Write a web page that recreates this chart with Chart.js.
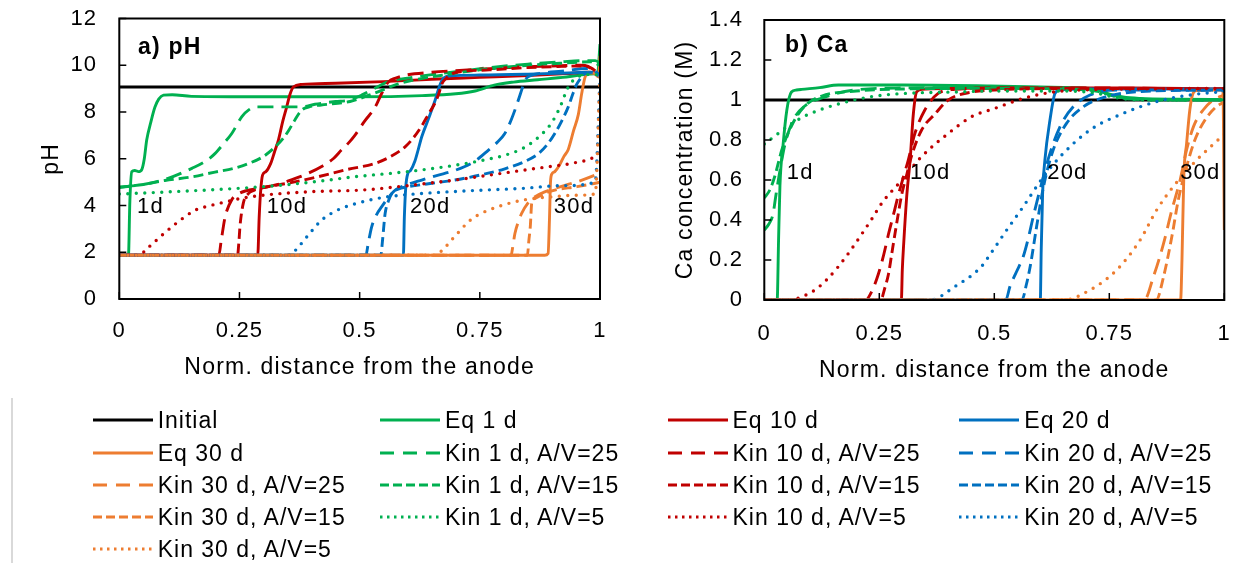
<!DOCTYPE html>
<html>
<head>
<meta charset="utf-8">
<script src="https://cdn.jsdelivr.net/npm/chart.js@4.4.0/dist/chart.umd.min.js"></script>
<style>
  body { margin: 0; background: #fff; }
  #wrap { position: relative; width: 1252px; height: 563px; overflow: hidden; font-family: "Liberation Sans", Arial, sans-serif; }
  canvas.plot { position: absolute; top: 0; }
  #legend { position: absolute; left: 0; top: 0; width: 1252px; height: 563px; }
  .item { position: absolute; height: 32px; line-height: 32px; font-size: 23px; letter-spacing: 1px; color: #000; white-space: nowrap; }
  .item canvas { position: absolute; left: 0; top: 11px; }
  .item span { position: absolute; left: 65px; top: 0; }
  #bar { position: absolute; left: 11px; top: 398px; width: 2px; height: 165px; background: #d9d9d9; }
</style>
</head>
<body>
<div id="wrap">
  <canvas id="phChart" class="plot" width="620" height="390" style="left:0px"></canvas>
  <canvas id="caChart" class="plot" width="622" height="390" style="left:630px"></canvas>
  <div id="bar"></div>
  <div id="legend"></div>
</div>
<script>
// ---- series meta (legend order) ----
const seriesLabels = ['Initial', 'Eq 1 d', 'Eq 10 d', 'Eq 20 d', 'Eq 30 d',
  'Kin 1 d, A/V=25', 'Kin 10 d, A/V=25', 'Kin 20 d, A/V=25', 'Kin 30 d, A/V=25',
  'Kin 1 d, A/V=15', 'Kin 10 d, A/V=15', 'Kin 20 d, A/V=15', 'Kin 30 d, A/V=15',
  'Kin 1 d, A/V=5', 'Kin 10 d, A/V=5', 'Kin 20 d, A/V=5', 'Kin 30 d, A/V=5'];
const seriesColors = ['#000000', '#00B050', '#C00000', '#0070C0', '#ED7D31',
  '#00B050', '#C00000', '#0070C0', '#ED7D31',
  '#00B050', '#C00000', '#0070C0', '#ED7D31',
  '#00B050', '#C00000', '#0070C0', '#ED7D31'];
const seriesStyles = ['solid', 'solid', 'solid', 'solid', 'solid',
  'long', 'long', 'long', 'long',
  'dash', 'dash', 'dash', 'dash',
  'dot', 'dot', 'dot', 'dot'];

// ---- tick labels ----
const xTickValues = [0, 0.25, 0.5, 0.75, 1];
const xTickLabels = ['0', '0.25', '0.5', '0.75', '1'];
const phTickValues = [0, 2, 4, 6, 8, 10, 12];
const phTickLabels = ['0', '2', '4', '6', '8', '10', '12'];
const caTickValues = [0, 0.2, 0.4, 0.6, 0.8, 1, 1.2, 1.4];
const caTickLabels = ['0', '0.2', '0.4', '0.6', '0.8', '1', '1.2', '1.4'];
const dayLabels = ['1d', '10d', '20d', '30d'];

// ---- a) pH : [norm. distance, pH] ----
const phInitial = [[0, 9.07], [1, 9.07]];
const phEq1 = [[0, 1.87], [0.019, 1.87], [0.022, 4.2], [0.026, 5.45], [0.032, 5.5], [0.04, 5.45], [0.047, 5.55], [0.052, 6.0], [0.057, 6.8], [0.066, 7.6], [0.074, 8.2], [0.082, 8.55], [0.092, 8.72], [0.11, 8.74], [0.15, 8.67], [0.3, 8.65], [0.5, 8.65], [0.63, 8.7], [0.7, 8.78], [0.74, 8.9], [0.78, 9.15], [0.82, 9.28], [0.87, 9.38], [0.93, 9.5], [0.98, 9.62], [0.995, 9.65], [1, 10.9]];
const phEq10 = [[0, 1.87], [0.288, 1.87], [0.291, 3.5], [0.294, 4.6], [0.298, 5.3], [0.305, 5.45], [0.315, 5.8], [0.323, 6.3], [0.331, 6.8], [0.34, 7.6], [0.348, 8.2], [0.355, 8.75], [0.362, 9.07], [0.38, 9.18], [0.45, 9.23], [0.55, 9.3], [0.65, 9.4], [0.75, 9.48], [0.85, 9.56], [0.93, 9.64], [0.975, 9.7], [0.99, 9.65], [1, 9.5]];
const phEq20 = [[0, 1.87], [0.591, 1.87], [0.593, 3.5], [0.596, 4.8], [0.6, 5.35], [0.606, 5.5], [0.615, 5.9], [0.622, 6.4], [0.629, 6.93], [0.643, 7.7], [0.657, 8.5], [0.666, 9.1], [0.674, 9.43], [0.69, 9.55], [0.75, 9.58], [0.85, 9.62], [0.95, 9.68], [0.98, 9.7], [1, 9.55]];
const phEq30 = [[0, 1.87], [0.885, 1.87], [0.892, 1.95], [0.895, 3.5], [0.897, 5.0], [0.9, 5.35], [0.906, 5.45], [0.915, 5.7], [0.925, 6.1], [0.934, 6.4], [0.945, 7.2], [0.955, 7.9], [0.962, 8.8], [0.969, 9.5], [0.978, 9.68], [0.988, 9.65], [0.997, 9.5], [1, 10.4]];
const phKin1A25 = [[0, 4.78], [0.05, 4.9], [0.1, 5.15], [0.151, 5.59], [0.18, 5.9], [0.199, 6.22], [0.215, 6.6], [0.234, 7.08], [0.255, 7.8], [0.27, 8.1], [0.285, 8.22], [0.33, 8.22], [0.38, 8.22], [0.407, 8.33], [0.45, 8.45], [0.476, 8.5], [0.504, 8.72], [0.53, 9.0], [0.56, 9.3], [0.6, 9.45], [0.65, 9.6], [0.7, 9.72], [0.77, 9.9], [0.85, 10.05], [0.92, 10.15], [0.97, 10.2], [0.99, 10.2], [1, 10.1]];
const phKin10A25 = [[0, 1.87], [0.207, 1.87], [0.212, 2.5], [0.22, 3.5], [0.234, 4.25], [0.248, 4.5], [0.262, 4.62], [0.296, 4.75], [0.33, 4.9], [0.358, 5.1], [0.39, 5.35], [0.421, 5.67], [0.445, 6.0], [0.462, 6.37], [0.478, 6.7], [0.49, 7.0], [0.51, 7.6], [0.532, 8.2], [0.546, 8.8], [0.56, 9.29], [0.575, 9.45], [0.594, 9.57], [0.65, 9.7], [0.698, 9.77], [0.77, 9.85], [0.837, 9.93], [0.9, 9.97], [0.96, 10.0], [0.975, 9.95], [0.99, 9.65], [1, 9.6]];
const phKin20A25 = [[0, 1.87], [0.513, 1.87], [0.518, 2.4], [0.525, 3.09], [0.535, 3.6], [0.546, 3.95], [0.56, 4.35], [0.574, 4.66], [0.6, 4.9], [0.629, 5.09], [0.66, 5.28], [0.698, 5.5], [0.74, 5.9], [0.768, 6.37], [0.786, 6.7], [0.802, 7.08], [0.816, 7.7], [0.83, 8.5], [0.838, 9.0], [0.844, 9.36], [0.855, 9.55], [0.872, 9.64], [0.92, 9.75], [0.976, 9.86], [1, 9.6]];
const phKin30A25 = [[0, 1.87], [0.815, 1.87], [0.819, 2.3], [0.823, 2.8], [0.83, 3.3], [0.837, 3.66], [0.85, 4.1], [0.865, 4.38], [0.885, 4.58], [0.906, 4.73], [0.95, 5.0], [0.99, 5.3], [1, 5.4]];
const phKin1A15 = [[0, 4.78], [0.05, 4.9], [0.095, 5.07], [0.15, 5.22], [0.199, 5.43], [0.24, 5.6], [0.268, 5.79], [0.3, 6.1], [0.324, 6.5], [0.34, 6.85], [0.352, 7.2], [0.365, 7.65], [0.379, 8.07], [0.395, 8.22], [0.42, 8.3], [0.48, 8.45], [0.53, 8.8], [0.58, 9.2], [0.62, 9.4], [0.68, 9.6], [0.75, 9.8], [0.85, 10.0], [0.93, 10.1], [0.98, 10.15], [1, 10.0]];
const phKin10A15 = [[0, 1.87], [0.246, 1.87], [0.249, 2.5], [0.251, 3.1], [0.258, 4.1], [0.268, 4.5], [0.28, 4.65], [0.296, 4.75], [0.35, 4.95], [0.407, 5.2], [0.476, 5.55], [0.532, 5.8], [0.565, 6.1], [0.594, 6.5], [0.612, 6.9], [0.629, 7.4], [0.643, 7.9], [0.657, 8.4], [0.665, 8.8], [0.671, 9.2], [0.683, 9.5], [0.698, 9.68], [0.77, 9.8], [0.85, 9.9], [0.92, 9.95], [0.96, 9.97], [0.98, 9.9], [1, 9.6]];
const phKin20A15 = [[0, 1.87], [0.544, 1.87], [0.548, 2.6], [0.553, 3.66], [0.56, 4.2], [0.567, 4.52], [0.58, 4.7], [0.601, 4.8], [0.65, 4.95], [0.698, 5.09], [0.75, 5.3], [0.802, 5.57], [0.84, 5.85], [0.872, 6.22], [0.89, 6.6], [0.906, 7.08], [0.92, 7.6], [0.934, 8.22], [0.944, 8.8], [0.952, 9.2], [0.96, 9.45], [0.969, 9.64], [0.985, 9.7], [1, 9.5]];
const phKin30A15 = [[0, 1.87], [0.849, 1.87], [0.852, 2.5], [0.855, 3.1], [0.858, 4.1], [0.865, 4.3], [0.878, 4.45], [0.906, 4.66], [0.95, 4.8], [0.99, 4.95], [1, 5.0]];
const phKin1A5 = [[0, 4.49], [0.1, 4.58], [0.2, 4.68], [0.296, 4.8], [0.4, 5.0], [0.49, 5.23], [0.6, 5.45], [0.698, 5.72], [0.76, 5.95], [0.802, 6.15], [0.84, 6.45], [0.865, 6.8], [0.893, 7.36], [0.907, 7.8], [0.92, 8.36], [0.93, 8.9], [0.938, 9.2], [0.95, 9.45], [0.97, 9.6], [1, 9.6]];
const phKin10A5 = [[0, 1.87], [0.04, 1.87], [0.06, 2.2], [0.09, 2.75], [0.116, 3.2], [0.158, 3.8], [0.19, 4.0], [0.22, 4.15], [0.26, 4.33], [0.303, 4.45], [0.407, 4.6], [0.504, 4.66], [0.6, 4.85], [0.698, 5.09], [0.77, 5.3], [0.837, 5.5], [0.9, 5.68], [0.94, 5.8], [0.99, 6.1], [1, 6.3]];
const phKin20A5 = [[0, 1.87], [0.355, 1.87], [0.365, 2.05], [0.379, 2.38], [0.4, 2.9], [0.421, 3.38], [0.44, 3.65], [0.462, 3.88], [0.49, 4.07], [0.525, 4.25], [0.56, 4.38], [0.62, 4.5], [0.698, 4.6], [0.77, 4.67], [0.837, 4.73], [0.92, 4.85], [0.99, 5.0], [1, 9.4]];
const phKin30A5 = [[0, 1.87], [0.655, 1.87], [0.67, 2.05], [0.691, 2.52], [0.71, 2.95], [0.726, 3.3], [0.745, 3.58], [0.768, 3.8], [0.8, 4.03], [0.837, 4.22], [0.87, 4.32], [0.906, 4.38], [0.95, 4.44], [0.99, 4.5], [1, 9.6]];

// ---- b) Ca : [norm. distance, Ca (M)] ----
const caInitial = [[0, 1], [1, 1]];
const caEq1 = [[0, 0], [0.028, 0], [0.031, 0.3], [0.034, 0.57], [0.041, 0.78], [0.049, 0.95], [0.059, 1.04], [0.07, 1.05], [0.081, 1.053], [0.12, 1.062], [0.161, 1.075], [0.3, 1.075], [0.49, 1.07], [0.6, 1.065], [0.708, 1.058], [0.73, 1.045], [0.744, 1.033], [0.78, 1.015], [0.817, 1.008], [0.9, 1.004], [1, 1.003]];
const caEq10 = [[0, 0], [0.298, 0], [0.3, 0.15], [0.303, 0.28], [0.31, 0.53], [0.317, 0.7], [0.324, 0.93], [0.331, 1.04], [0.342, 1.053], [0.4, 1.058], [0.6, 1.06], [0.8, 1.06], [1, 1.055]];
const caEq20 = [[0, 0], [0.6, 0], [0.602, 0.25], [0.605, 0.53], [0.61, 0.7], [0.621, 0.9], [0.632, 1.033], [0.643, 1.05], [0.7, 1.055], [1, 1.055]];
const caEq30 = [[0, 0], [0.905, 0], [0.908, 0.2], [0.912, 0.62], [0.918, 0.78], [0.925, 0.95], [0.932, 1.033], [0.94, 1.047], [0.96, 1.05], [0.997, 1.05], [1, 0.35]];
const caKin1A25 = [[0, 0.35], [0.01, 0.38], [0.019, 0.43], [0.025, 0.52], [0.032, 0.62], [0.045, 0.78], [0.063, 0.9], [0.088, 0.97], [0.125, 1.01], [0.197, 1.05], [0.3, 1.06], [0.5, 1.062], [0.65, 1.06], [0.72, 1.05], [0.76, 1.02], [0.8, 1.005], [0.9, 1.0], [1, 1.0]];
const caKin10A25 = [[0, 0], [0.22, 0], [0.235, 0.05], [0.248, 0.13], [0.26, 0.23], [0.27, 0.33], [0.28, 0.42], [0.292, 0.53], [0.303, 0.62], [0.313, 0.7], [0.327, 0.83], [0.349, 0.95], [0.378, 1.033], [0.414, 1.053], [0.5, 1.06], [0.7, 1.06], [1, 1.055]];
const caKin20A25 = [[0, 0], [0.525, 0], [0.534, 0.067], [0.548, 0.14], [0.563, 0.217], [0.573, 0.3], [0.583, 0.4], [0.601, 0.567], [0.621, 0.733], [0.643, 0.867], [0.672, 0.967], [0.708, 1.025], [0.766, 1.05], [1, 1.05]];
const caKin30A25 = [[0, 0], [0.826, 0], [0.846, 0.117], [0.868, 0.283], [0.886, 0.45], [0.904, 0.6], [0.918, 0.75], [0.933, 0.867], [0.954, 0.95], [0.976, 1.0], [1, 1.025]];
const caKin1A15 = [[0, 0.51], [0.012, 0.55], [0.023, 0.62], [0.038, 0.75], [0.059, 0.87], [0.088, 0.97], [0.125, 1.02], [0.2, 1.045], [0.3, 1.055], [0.5, 1.058], [0.65, 1.055], [0.72, 1.045], [0.76, 1.02], [0.8, 1.005], [1, 1.0]];
const caKin10A15 = [[0, 0], [0.253, 0], [0.262, 0.06], [0.27, 0.13], [0.277, 0.23], [0.284, 0.33], [0.299, 0.53], [0.31, 0.63], [0.32, 0.72], [0.342, 0.85], [0.371, 0.93], [0.4, 1.0], [0.451, 1.04], [0.5, 1.05], [0.7, 1.058], [1, 1.055]];
const caKin20A15 = [[0, 0], [0.56, 0], [0.57, 0.08], [0.578, 0.167], [0.592, 0.367], [0.607, 0.567], [0.628, 0.75], [0.657, 0.883], [0.694, 0.967], [0.744, 1.017], [0.817, 1.042], [1, 1.05]];
const caKin30A15 = [[0, 0], [0.852, 0], [0.868, 0.117], [0.886, 0.317], [0.9, 0.5], [0.918, 0.667], [0.936, 0.8], [0.958, 0.9], [0.983, 0.967], [1, 0.99]];
const caKin1A5 = [[0, 0.78], [0.023, 0.82], [0.052, 0.87], [0.088, 0.92], [0.12, 0.95], [0.161, 0.98], [0.233, 1.017], [0.306, 1.033], [0.414, 1.04], [0.5, 1.045], [0.65, 1.045], [0.72, 1.035], [0.77, 1.01], [0.82, 1.0], [1, 1.0]];
const caKin10A5 = [[0, 0], [0.055, 0], [0.08, 0.015], [0.11, 0.05], [0.135, 0.1], [0.161, 0.167], [0.185, 0.24], [0.212, 0.33], [0.235, 0.41], [0.255, 0.483], [0.299, 0.6], [0.342, 0.717], [0.4, 0.833], [0.451, 0.917], [0.501, 0.958], [0.563, 1.008], [0.635, 1.042], [0.744, 1.053], [1, 1.058]];
const caKin20A5 = [[0, 0], [0.36, 0], [0.414, 0.067], [0.472, 0.167], [0.49, 0.225], [0.527, 0.35], [0.563, 0.467], [0.607, 0.617], [0.65, 0.733], [0.708, 0.85], [0.78, 0.933], [0.853, 0.992], [0.925, 1.025], [1, 1.042]];
const caKin30A5 = [[0, 0], [0.65, 0], [0.708, 0.05], [0.766, 0.15], [0.817, 0.3], [0.853, 0.45], [0.889, 0.567], [0.94, 0.7], [0.99, 0.808], [1, 0.83]];

const phSeries = [phInitial, phEq1, phEq10, phEq20, phEq30,
  phKin1A25, phKin10A25, phKin20A25, phKin30A25,
  phKin1A15, phKin10A15, phKin20A15, phKin30A15,
  phKin1A5, phKin10A5, phKin20A5, phKin30A5];
const caSeries = [caInitial, caEq1, caEq10, caEq20, caEq30,
  caKin1A25, caKin10A25, caKin20A25, caKin30A25,
  caKin1A15, caKin10A15, caKin20A15, caKin30A15,
  caKin1A5, caKin10A5, caKin20A5, caKin30A5];

// line styles
const plotDash = { solid: [], long: [16, 8], dash: [10, 5], dot: [0, 8.5] };
const plotWidth = { solid: 2.9, long: 2.9, dash: 2.9, dot: 3.4 };
const legendDash = { solid: [], long: [14, 9], dash: [9, 4], dot: [2.5, 4.5] };

const FONT = '"Liberation Sans", Arial, sans-serif';

function buildDatasets(series) {
  return series.map((pts, i) => ({
    label: seriesLabels[i],
    data: pts.map(p => ({ x: p[0], y: p[1] })),
    borderColor: seriesColors[i],
    borderWidth: i === 0 ? 3 : plotWidth[seriesStyles[i]],
    borderDash: plotDash[seriesStyles[i]],
    borderCapStyle: seriesStyles[i] === 'dot' ? 'round' : 'butt',
    pointRadius: 0,
    fill: false,
    cubicInterpolationMode: 'monotone',
    order: -i, // later series on top, like the source workbook
  }));
}

// frame, inward ticks and in-plot notes
const framePlugin = {
  id: 'frame',
  beforeDraw(chart) {
    chart.ctx.letterSpacing = '1.2px';
  },
  afterDatasetsDraw(chart, args, opts) {
    const { ctx, chartArea: a, scales } = chart;
    ctx.save();
    ctx.letterSpacing = '1.2px';
    ctx.strokeStyle = '#000';
    ctx.lineWidth = 1.5;
    ctx.beginPath();
    opts.yTicks.forEach(v => {
      const y = scales.y.getPixelForValue(v);
      ctx.moveTo(a.left, y); ctx.lineTo(a.left + 7, y);
    });
    xTickValues.forEach(v => {
      const x = scales.x.getPixelForValue(v);
      ctx.moveTo(x, a.bottom); ctx.lineTo(x, a.bottom - 7);
    });
    ctx.stroke();
    ctx.lineWidth = 2;
    ctx.strokeRect(a.left, a.top, a.right - a.left, a.bottom - a.top);

    ctx.fillStyle = '#000';
    ctx.textBaseline = 'middle';
    ctx.textAlign = 'left';
    ctx.font = 'bold 23px ' + FONT;
    ctx.fillText(opts.panel, scales.x.getPixelForValue(opts.panelAt[0]), scales.y.getPixelForValue(opts.panelAt[1]));
    ctx.font = '22px ' + FONT;
    dayLabels.forEach((t, i) => {
      ctx.fillText(t, scales.x.getPixelForValue(opts.dayX[i]), scales.y.getPixelForValue(opts.dayY));
    });
    ctx.restore();
  }
};

// fixed axis boxes so the plot areas land where the source has them
function lockBox(s, size) {
  if (s.isHorizontal()) s.height = size; else s.width = size;
  s.paddingTop = 0; s.paddingBottom = 0; s.paddingLeft = 0; s.paddingRight = 0;
}

function makeChart(id, series, cfg) {
  return new Chart(document.getElementById(id), {
    type: 'line',
    data: { datasets: buildDatasets(series) },
    plugins: [framePlugin],
    options: {
      responsive: false,
      animation: false,
      devicePixelRatio: 1,
      layout: { padding: cfg.padding },
      plugins: {
        legend: { display: false },
        tooltip: { enabled: false },
        frame: cfg.frame,
      },
      scales: {
        x: {
          type: 'linear', min: 0, max: 1,
          grid: { display: false, drawTicks: false },
          border: { display: false },
          afterBuildTicks: s => { s.ticks = xTickValues.map(v => ({ value: v })); },
          afterFit: s => lockBox(s, cfg.xHeight),
          ticks: {
            padding: cfg.xTickPad, color: '#000', maxRotation: 0, autoSkip: false,
            font: { family: FONT, size: 22 },
            callback: (v, i) => xTickLabels[i],
          },
          title: {
            display: true, text: 'Norm. distance from the anode', color: '#000',
            font: { family: FONT, size: 23 }, padding: { top: 0, bottom: cfg.xTitlePad },
          },
        },
        y: {
          type: 'linear', min: cfg.yMin, max: cfg.yMax,
          grid: { display: false, drawTicks: false },
          border: { display: false },
          afterBuildTicks: s => { s.ticks = cfg.yValues.map(v => ({ value: v })); },
          afterFit: s => lockBox(s, cfg.yWidth),
          ticks: {
            padding: cfg.yTickPad, color: '#000', autoSkip: false,
            font: { family: FONT, size: 22 },
            callback: (v, i) => cfg.yLabels[i],
          },
          title: {
            display: true, text: cfg.yTitle, color: '#000',
            font: { family: FONT, size: 23 }, padding: { top: cfg.yTitlePad, bottom: 0 },
          },
        },
      },
    },
  });
}

makeChart('phChart', phSeries, {
  padding: { left: 0, top: 18.5, right: 20, bottom: 0 },
  xHeight: 91, yWidth: 119.3, xTickPad: 19, yTickPad: 22, xTitlePad: 9, yTitlePad: 38,
  yMin: 0, yMax: 12, yValues: phTickValues, yLabels: phTickLabels, yTitle: 'pH',
  frame: { yTicks: phTickValues, panel: 'a) pH', panelAt: [0.039, 10.77], dayX: [0.037, 0.307, 0.605, 0.904], dayY: 3.93 },
});

makeChart('caChart', caSeries, {
  padding: { left: 0, top: 20, right: 27.7, bottom: 0 },
  xHeight: 90, yWidth: 134.3, xTickPad: 21, yTickPad: 21, xTitlePad: 6, yTitlePad: 42,
  yMin: 0, yMax: 1.4, yValues: caTickValues, yLabels: caTickLabels, yTitle: 'Ca concentration (M)',
  frame: { yTicks: caTickValues, panel: 'b) Ca', panelAt: [0.045, 1.27], dayX: [0.049, 0.317, 0.615, 0.904], dayY: 0.635 },
});

// ---- shared legend (4 columns) ----
const legendColX = [92.7, 380, 667.5, 959.3];
const legendRowY = [420, 452.5, 485, 517, 548.5];
const legendEl = document.getElementById('legend');
seriesLabels.forEach((name, i) => {
  const item = document.createElement('div');
  item.className = 'item';
  item.style.left = legendColX[i % 4] + 'px';
  item.style.top = (legendRowY[Math.floor(i / 4)] - 16) + 'px';
  const c = document.createElement('canvas');
  c.width = 62; c.height = 10;
  const g = c.getContext('2d');
  g.strokeStyle = seriesColors[i];
  g.lineWidth = 3;
  g.setLineDash(legendDash[seriesStyles[i]]);
  g.beginPath(); g.moveTo(0, 5); g.lineTo(60, 5); g.stroke();
  const s = document.createElement('span');
  s.textContent = name;
  item.appendChild(c); item.appendChild(s);
  legendEl.appendChild(item);
});
</script>
</body>
</html>
